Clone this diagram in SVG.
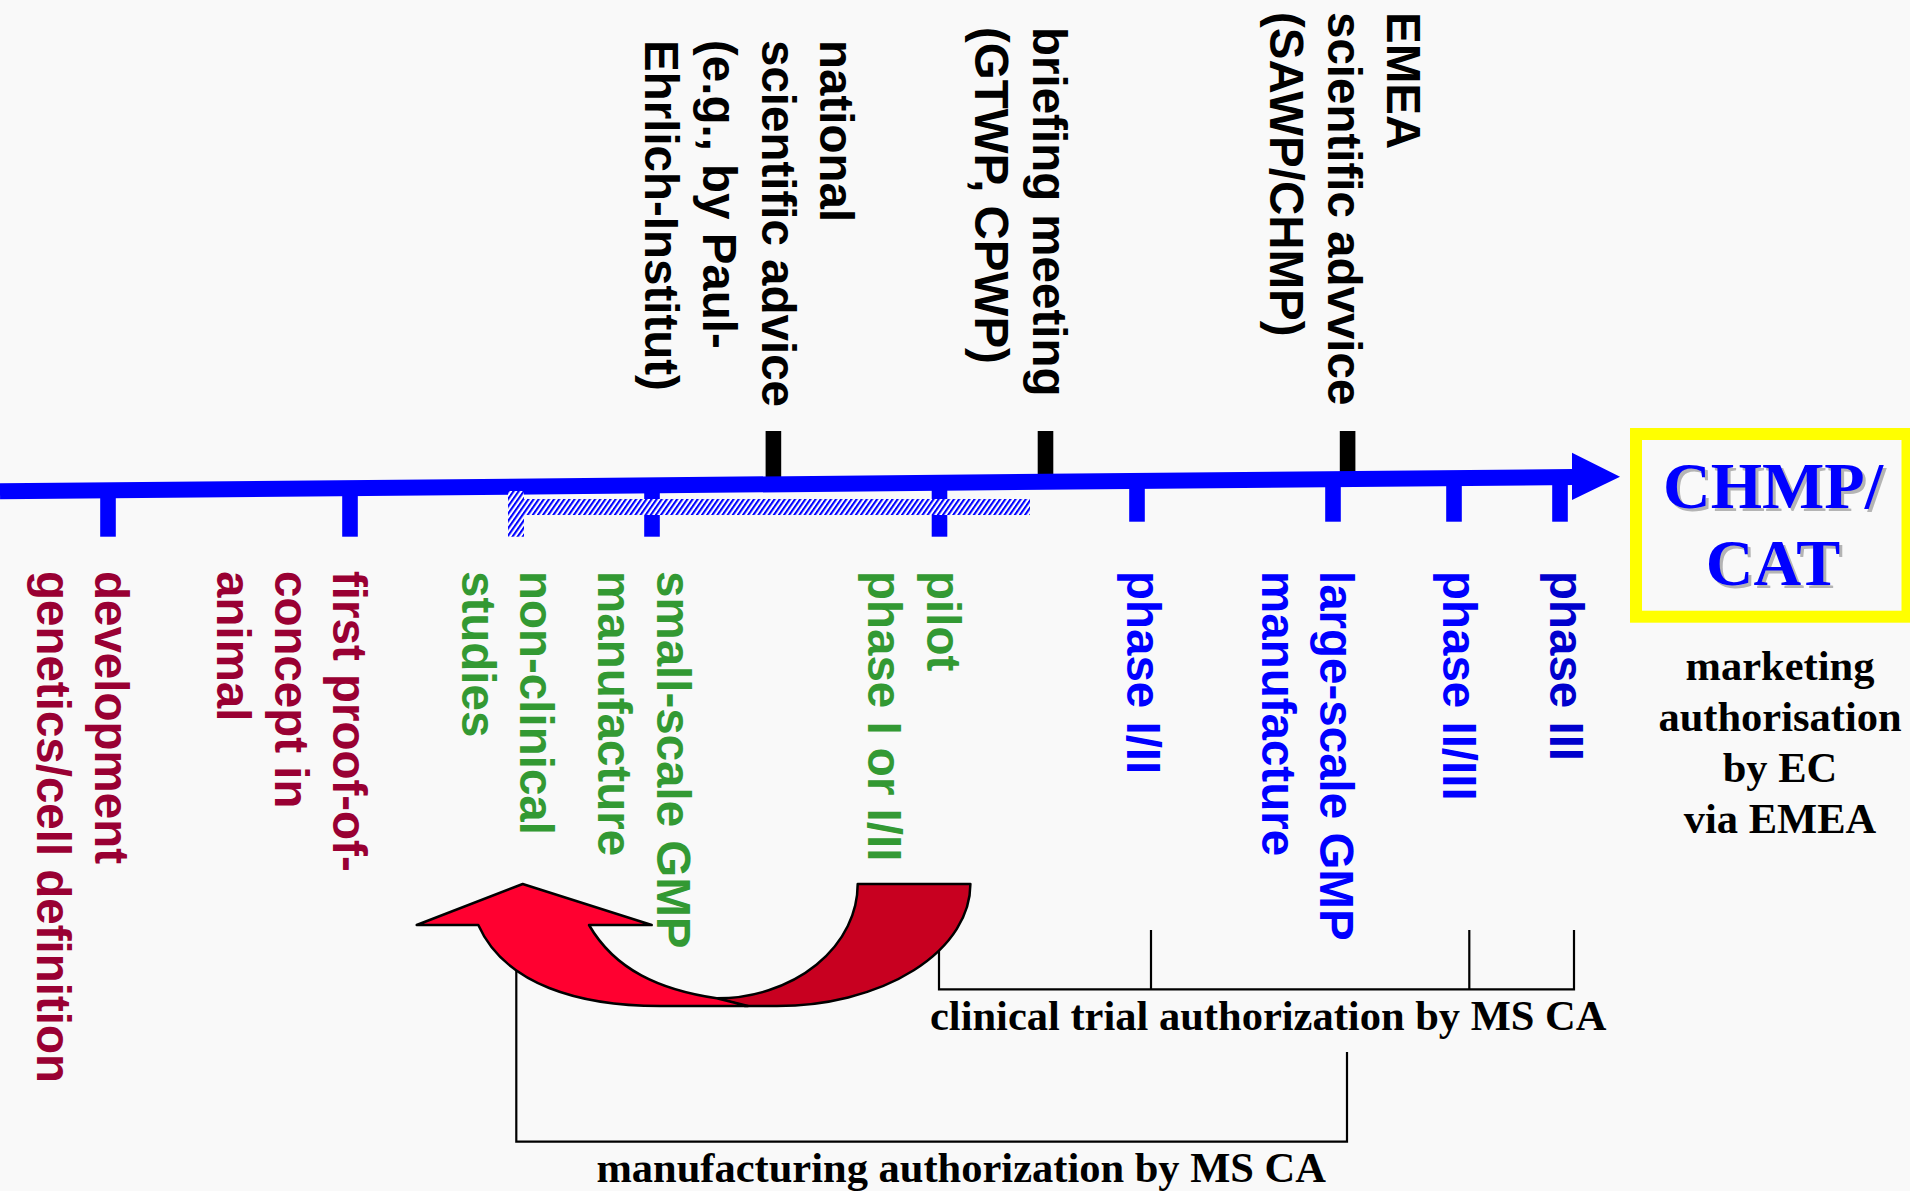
<svg xmlns="http://www.w3.org/2000/svg" width="1910" height="1191" viewBox="0 0 1910 1191">
  <defs>
    <style>
      .lab { font-family: "Liberation Sans", Arial, sans-serif; font-weight: bold; font-size: 47.5px; }
      .blk { fill: #000000; }
      .red { fill: #990033; }
      .grn { fill: #339933; }
      .blu { fill: #0000ff; }
      .blu2 { fill: #0000cc; }
      .serif { font-family: "Liberation Serif", "Times New Roman", serif; font-weight: bold; }
      .tickb { fill: #0000ff; }
      .tickk { fill: #000000; }
      .brk { fill: none; stroke: #000000; stroke-width: 2.2; }
    </style>
    <pattern id="hatch" patternUnits="userSpaceOnUse" width="4.2" height="4.2" patternTransform="rotate(35)">
      <rect width="4.2" height="4.2" fill="#ffffff"/>
      <rect width="2.1" height="4.2" fill="#0000ff"/>
    </pattern>
  </defs>
  <rect x="0" y="0" width="1910" height="1191" fill="#f9f9f9"/>

  <g id="connectors">
    <!-- black ticks above -->
    <rect class="tickk" x="765.6" y="431" width="15.6" height="48"/>
    <rect class="tickk" x="1037.7" y="431" width="15.6" height="45"/>
    <rect class="tickk" x="1339.8" y="431" width="15.6" height="42"/>
    <!-- blue ticks below -->
    <rect class="tickb" x="100.2" y="488" width="15.6" height="48.7"/>
    <rect class="tickb" x="342.2" y="486" width="15.6" height="50.7"/>
    <rect class="tickb" x="644.2" y="483" width="15.6" height="53.7"/>
    <rect class="tickb" x="931.7" y="480" width="15.6" height="56.7"/>
    <rect class="tickb" x="1129.2" y="478" width="15.6" height="43.7"/>
    <rect class="tickb" x="1325.2" y="476" width="15.6" height="45.7"/>
    <rect class="tickb" x="1446.2" y="475" width="15.6" height="46.7"/>
    <rect class="tickb" x="1552.2" y="474" width="15.6" height="47.7"/>
    <!-- main time arrow -->
    <line x1="0" y1="491.3" x2="1574" y2="477" stroke="#0000ff" stroke-width="16"/>
    <polygon points="1572,452.7 1620,476.7 1572,500" fill="#0000ff"/>
    <!-- hatched bar -->
    <path d="M508,491 H524 V499 H1030 V515 H524 V536.7 H508 Z" fill="url(#hatch)"/>
    <!-- clinical trial bracket -->
    <path class="brk" d="M939,930 V989.3 H1574 V930 M1151,930 V989.3 M1469.3,930 V989.3"/>
    <!-- manufacturing bracket -->
    <path class="brk" d="M516.3,960 V1141.7 H1347 V1052"/>
  </g>

  <g id="loop-arrow">
    <path d="M857.7,884 H970.4 A193.4,122 0 0 1 777,1006 L745,1006 L716.7,998.3 A141,114.3 0 0 0 857.7,884 Z" fill="#c80020" stroke="#000000" stroke-width="2.5" stroke-linejoin="round"/>
    <path d="M416.7,925 L522.7,884 L651.7,925 L589,925 C615,970 660,990 716.7,998.3 L748,1006 L660,1006 C580,1006 505,985 478.3,925 Z" fill="#ff0030" stroke="#000000" stroke-width="2.5" stroke-linejoin="round"/>
  </g>

  <g id="node-national">
    <text class="lab blk" transform="translate(820,40) rotate(90)"><tspan x="0" y="0">national</tspan><tspan x="0" dy="58.3">scientific advice</tspan><tspan x="0" dy="58.3">(e.g., by Paul-</tspan><tspan x="0" dy="58.3">Ehrlich-Institut)</tspan></text>
  </g>
  <g id="node-briefing">
    <text class="lab blk" transform="translate(1033,27) rotate(90)"><tspan x="0" y="0">briefing meeting</tspan><tspan x="0" dy="58.3">(GTWP, CPWP)</tspan></text>
  </g>
  <g id="node-emea">
    <text class="lab blk" transform="translate(1386.7,12) rotate(90)"><tspan x="0" y="0">EMEA</tspan><tspan x="0" dy="58.3">scientific advvice</tspan><tspan x="0" dy="58.3">(SAWP/CHMP)</tspan></text>
  </g>

  <g id="node-development">
    <text class="lab red" transform="translate(95,571) rotate(90)"><tspan x="0" y="0">development</tspan><tspan x="0" dy="58.3">genetics/cell definition</tspan></text>
  </g>
  <g id="node-proof">
    <text class="lab red" transform="translate(333.3,571) rotate(90)"><tspan x="0" y="0">first proof-of-</tspan><tspan x="0" dy="58.3">concept in</tspan><tspan x="0" dy="58.3">animal</tspan></text>
  </g>
  <g id="node-nonclinical">
    <text class="lab grn" transform="translate(520,571) rotate(90)"><tspan x="0" y="0">non-clinical</tspan><tspan x="0" dy="58.3">studies</tspan></text>
  </g>
  <g id="node-smallscale">
    <text class="lab grn" transform="translate(656.7,571) rotate(90)"><tspan x="0" y="0">small-scale GMP</tspan><tspan x="0" dy="58.3">manufacture</tspan></text>
  </g>
  <g id="node-pilot">
    <text class="lab grn" transform="translate(926.7,571) rotate(90)"><tspan x="0" y="0">pilot</tspan><tspan x="0" dy="58.3">phase I or I/II</tspan></text>
  </g>
  <g id="node-phase12">
    <text class="lab blu" transform="translate(1126.7,571) rotate(90)">phase I/II</text>
  </g>
  <g id="node-largescale">
    <text class="lab blu" transform="translate(1320,571) rotate(90)"><tspan x="0" y="0">large-scale GMP</tspan><tspan x="0" dy="58.3">manufacture</tspan></text>
  </g>
  <g id="node-phase23">
    <text class="lab blu" transform="translate(1443.3,571) rotate(90)">phase II/III</text>
  </g>
  <g id="node-phase3">
    <text class="lab blu2" transform="translate(1550,571) rotate(90)">phase III</text>
  </g>

  <g id="node-chmp">
    <rect x="1636" y="434" width="271.5" height="182.7" fill="none" stroke="#ffff00" stroke-width="12"/>
    <g class="serif" font-size="66" text-anchor="middle">
      <text x="1776" y="511.3" fill="#b4b4b4">CHMP/</text>
      <text x="1776" y="588" fill="#b4b4b4">CAT</text>
      <text x="1773" y="508.3" fill="#0000ff">CHMP/</text>
      <text x="1773" y="585" fill="#0000ff">CAT</text>
    </g>
    <text class="serif" font-size="42.5" text-anchor="middle" fill="#000000"><tspan x="1780" y="680">marketing</tspan><tspan x="1780" y="731">authorisation</tspan><tspan x="1780" y="782">by EC</tspan><tspan x="1780" y="833">via EMEA</tspan></text>
  </g>

  <g id="label-clinical">
    <text class="serif" font-size="42.5" x="930" y="1030" fill="#000000">clinical trial authorization by MS CA</text>
  </g>
  <g id="label-manufacturing">
    <text class="serif" font-size="42.5" x="596.4" y="1181.7" fill="#000000">manufacturing authorization by MS CA</text>
  </g>
</svg>
